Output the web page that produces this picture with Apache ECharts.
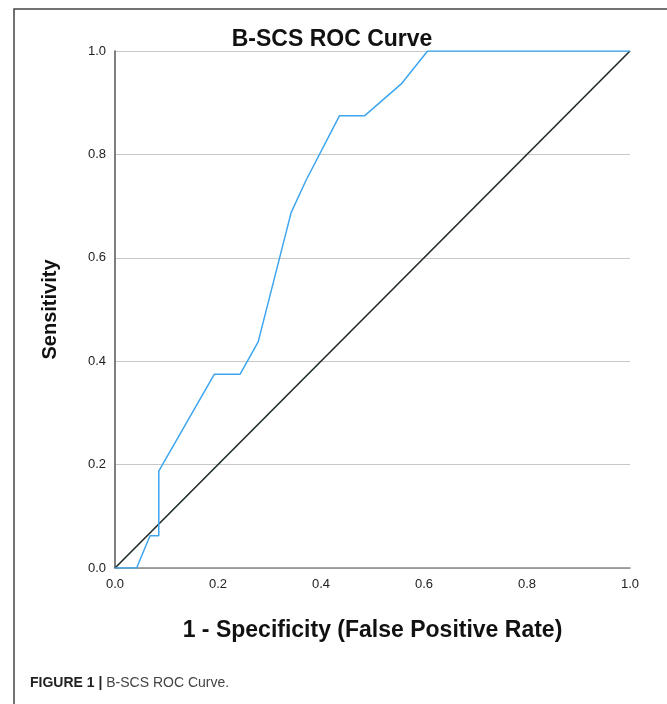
<!DOCTYPE html>
<html>
<head>
<meta charset="utf-8">
<script src="https://cdn.jsdelivr.net/npm/echarts@6/dist/echarts.min.js"></script>
<style>
html,body{margin:0;padding:0;background:#fff;}
#chart{width:667px;height:704px;}
</style>
</head>
<body>
<div id="chart"></div>
<script>
var titleText = 'B-SCS ROC Curve';
var xAxisName = '1 - Specificity (False Positive Rate)';
var yAxisName = 'Sensitivity';
var captionBold = 'FIGURE 1 |';
var captionText = ' B-SCS ROC Curve.';
var rocX = [0, 0.042, 0.068, 0.085, 0.085, 0.193, 0.243, 0.278, 0.342, 0.371, 0.436, 0.485, 0.557, 0.607, 1.0];
var rocY = [0, 0, 0.0625, 0.0625, 0.1875, 0.375, 0.375, 0.4375, 0.6875, 0.75, 0.875, 0.875, 0.9375, 1.0, 1.0];
var refX = [0, 1];
var refY = [0, 1];

var font = 'Liberation Sans, Arial, sans-serif';
var chart = echarts.init(document.getElementById('chart'));
chart.setOption({
  animation: false,
  backgroundColor: '#fff',
  title: {
    text: titleText,
    left: 327, top: 23, textAlign: 'center',
    textStyle: {fontFamily: font, fontSize: 23, fontWeight: 'bold', color: '#111'}
  },
  grid: {left: 115, right: 37, top: 51, bottom: 136},
  xAxis: {
    type: 'value', min: 0, max: 1, interval: 0.2,
    name: xAxisName, nameLocation: 'middle', nameGap: 51,
    nameTextStyle: {fontFamily: font, fontSize: 23, fontWeight: 'bold', color: '#111'},
    axisLine: {show: true, lineStyle: {color: '#888', width: 1.5}},
    axisTick: {show: false},
    axisLabel: {fontFamily: font, fontSize: 13, color: '#222', margin: 10,
      formatter: function(v){return v.toFixed(1);}},
    splitLine: {show: false}
  },
  yAxis: {
    type: 'value', min: 0, max: 1, interval: 0.2,
    name: yAxisName, nameLocation: 'middle', nameGap: 55,
    nameTextStyle: {fontFamily: font, fontSize: 20, fontWeight: 'bold', color: '#111'},
    axisLine: {show: true, lineStyle: {color: '#555', width: 1.5}},
    axisTick: {show: false},
    axisLabel: {fontFamily: font, fontSize: 13, color: '#222', margin: 9,
      formatter: function(v){return v.toFixed(1);}},
    splitLine: {show: true, lineStyle: {color: '#c8c8c8', width: 1.2}}
  },
  series: [
    {
      type: 'line', data: refX.map(function(x, i){return [x, refY[i]];}),
      symbol: 'none', lineStyle: {color: '#1e2a28', width: 1.6}, z: 2
    },
    {
      type: 'line', data: rocX.map(function(x, i){return [x, rocY[i]];}),
      symbol: 'none', lineStyle: {color: '#3ea6ef', width: 1.5}, z: 3
    }
  ],
  graphic: [
    {type: 'rect', shape: {x: 14, y: 9, width: 700, height: 720},
      style: {fill: 'none', stroke: '#444', lineWidth: 1.5}, silent: true},
    {type: 'text', left: 30, top: 676,
      style: {
        text: '{b|' + captionBold + '}{n|' + captionText + '}',
        rich: {
          b: {fontFamily: font, fontSize: 14, fontWeight: 'bold', fill: '#222'},
          n: {fontFamily: font, fontSize: 14, fill: '#444'}
        }
      }}
  ]
});
</script>
</body>
</html>
